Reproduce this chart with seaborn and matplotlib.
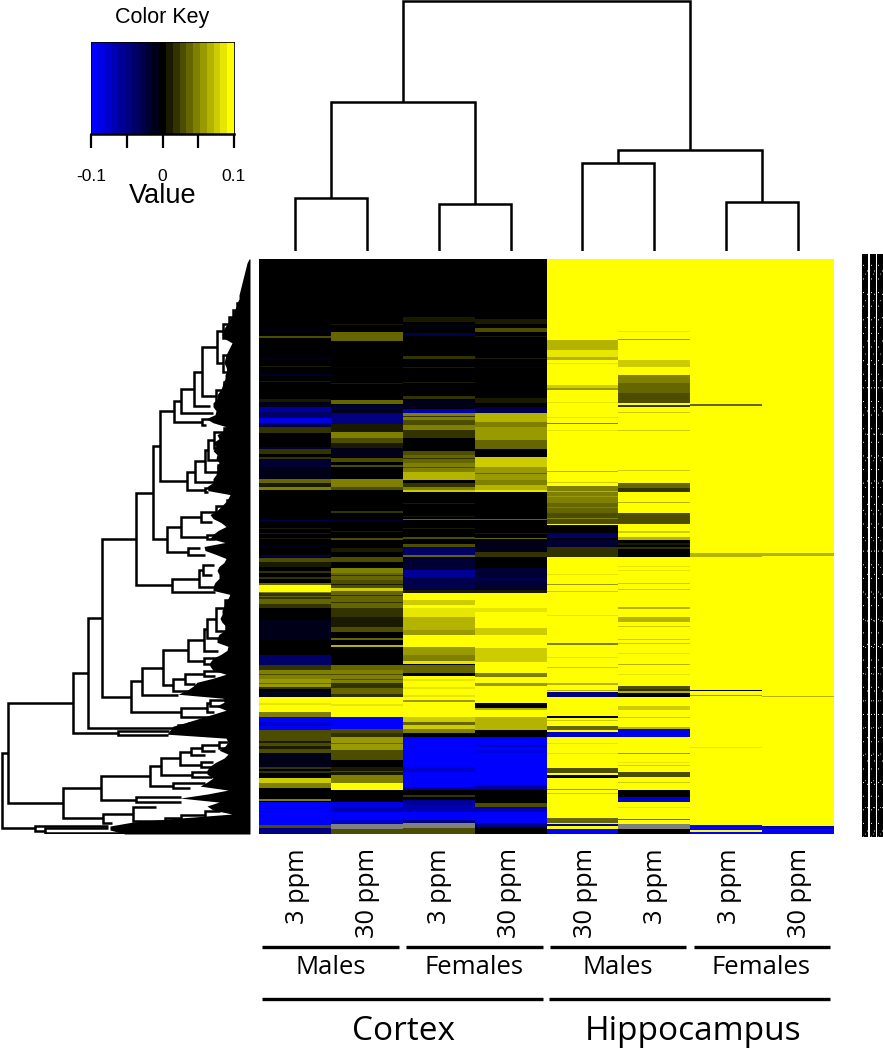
import numpy as np
import pandas as pd
import matplotlib
matplotlib.use('Agg')
import matplotlib.pyplot as plt
from matplotlib.colors import ListedColormap
import seaborn as sns

# column labels
dose_labels = ['3 ppm', '30 ppm', '3 ppm', '30 ppm', '30 ppm', '3 ppm', '3 ppm', '30 ppm']
sex_labels = ['Males', 'Females', 'Males', 'Females']
region_labels = ['Cortex', 'Hippocampus']
key_ticks = ['-0.1', '', '0', '', '0.1']
key_levels = list(range(-10, 11))
GRAY = np.nan  # the grey smudges in the bottom rows, off the colour scale

# each column: background level (in 0.01 units) and (first row, stop row, level) bands
cortex_m3 = [(71,73,-1),(77,79,3),(99,101,-1),(107,108,1),(115,116,-2),(122,123,1),(140,143,1),(143,148,-1),
    (148,153,-6),(153,159,-4),(159,164,-9),(164,168,-3),(168,174,2),(188,190,-2),(190,195,2),(198,200,2),
    (200,208,-2),(208,220,-1),(220,224,4),(224,228,1),(228,231,5),(261,262,-3),(269,270,1),(274,275,1),
    (279,280,1),(286,288,-1),(296,298,-3),(299,303,3),(303,308,1),(312,314,2),(318,320,2),(324,326,4),
    (326,333,10),(333,334,5),(334,340,2),(337,338,4),(340,345,4),(345,349,2),(361,381,-1),(396,406,-4),(406,411,2),
    (411,420,5),(415,416,3),(420,428,6),(424,425,4),(428,430,2),(433,438,-1),(438,453,10),(444,446,9),(453,458,5),
    (458,463,-10),(463,467,-8),(467,471,-10),(471,478,3),(478,487,3),(482,484,1),(487,490,1),(490,494,3),(494,508,-1),
    (508,510,2),(512,514,2),(519,524,8),(524,529,5),(540,542,5),(543,566,-10),(552,553,-7),(566,569,3),(569,575,-5)]
cortex_m30 = [(65,66,1),(73,82,4),(108,109,-1),(124,125,1),(141,145,4),(146,151,-2),(151,154,-1),(154,165,-5),
    (165,173,1),(173,179,5),(179,184,3),(184,189,1),(189,199,-1),(199,203,3),(206,208,3),(220,228,5),
    (228,231,3),(252,254,2),(261,262,-2),(272,273,1),(279,281,3),(289,293,1),(298,303,3),(309,314,5),
    (314,321,4),(316,317,2),(321,329,3),(325,326,1),(329,332,8),(332,349,4),(336,337,2),(343,344,2),(349,358,2),(358,368,1),(368,373,3),
    (379,381,4),(386,388,7),(406,411,4),(411,424,5),(415,416,3),(420,421,3),(424,429,2),(429,435,4),(435,438,2),(438,458,10),(445,447,9),
    (458,470,-10),(470,474,3),(474,478,2),(478,491,6),(484,485,4),(491,501,3),(508,516,1),(512,513,3),(516,524,5),(524,531,10),
    (543,548,-9),(548,553,-7),(553,561,-10),(561,565,-8),(565,570,GRAY),(570,575,3)]
cortex_f3 = [(58,63,1),(66,69,-1),(74,77,-3),(97,100,2),(108,109,1),(123,124,1),(137,140,2),(141,149,-1),
    (150,154,-7),(154,161,5),(157,158,2),(161,166,3),(166,171,5),(171,179,2),(192,196,3),(196,204,4),(199,200,2),(204,213,5),
    (208,209,3),(213,221,7),(224,228,2),(228,231,5),(231,233,8),(244,245,1),(257,258,1),(260,261,4),(269,270,1),
    (278,280,3),(285,288,3),(288,296,-4),(296,298,4),(298,311,-2),(311,318,-6),(318,331,-3),(331,334,1),
    (334,341,10),(341,346,8),(346,349,10),(349,358,9),(358,371,7),(371,376,6),(376,388,10),(388,396,6),
    (396,402,5),(402,405,9),(406,414,4),(417,441,10),(420,422,9),(428,430,9),(436,438,9),(441,443,6),
    (443,458,10),(458,463,8),(463,466,4),(466,470,8),(470,474,5),(478,508,-10),(508,513,-8),(513,528,-10),
    (528,531,-6),(536,538,2),(541,546,-6),(546,553,-7),(553,561,-10),(561,564,-5),(564,569,GRAY),(569,575,3)]
cortex_f30 = [(60,65,1),(69,73,3),(77,78,1),(99,100,1),(108,109,-1),(139,144,1),(146,147,-1),(148,154,-3),
    (154,163,7),(163,168,5),(168,181,6),(181,190,4),(198,208,8),(208,221,6),(214,215,4),(221,226,5),(226,233,7),
    (231,233,9),(260,261,4),(274,275,1),(279,280,4),(281,293,-1),(293,298,2),(309,331,-2),(318,322,-3),
    (331,334,1),(334,349,10),(349,353,9),(353,369,10),(369,376,8),(376,389,10),(389,403,8),(403,406,10),
    (406,414,10),(414,418,5),(418,424,10),(424,427,6),(427,444,10),(449,451,7),(451,458,10),(458,471,7),
    (471,478,0),(478,491,-10),(486,488,-8),(491,494,-9),(494,526,-10),(526,531,-6),(544,548,3),(548,553,-7),
    (553,564,-10),(564,568,-5)]
hippo_m30 = [(81,91,7),(91,98,9),(98,101,7),(104,105,9),(126,129,8),(129,131,6),(143,144,9),(158,159,9),
    (164,165,5),(171,172,9),(212,213,7),(223,224,8),(227,244,5),(232,233,7),(237,238,6),(244,254,4),(248,249,5),(254,265,3),(259,260,5),(266,274,0),
    (274,279,-4),(279,281,0),(281,288,-2),(288,298,2),(315,316,9),(325,326,6),(332,333,8),(356,357,9),
    (384,386,5),(398,399,9),(408,409,8),(424,426,7),(431,432,7),(433,438,-5),(457,459,0),(461,462,8),
    (467,471,4),(473,478,-8),(484,485,9),(494,495,9),(509,514,3),(516,519,0),(530,531,6),(534,535,8),
    (559,564,4),(565,567,-6),(567,570,10),(570,575,-10)]
hippo_m3 = [(72,73,9),(80,81,6),(101,108,8),(116,124,5),(124,134,4),(134,144,3),(146,148,2),(153,154,8),
    (171,172,8),(211,212,8),(224,229,4),(229,233,2),(243,244,7),(254,265,3),(272,274,8),(278,281,7),
    (281,298,0),(284,286,1),(288,290,2),(307,308,9),(311,312,9),(324,325,8),(330,331,8),(348,350,7),
    (358,363,7),(367,368,8),(380,381,8),(384,385,8),(394,395,9),(405,406,7),(415,416,9),(427,430,3),
    (430,432,2),(432,434,7),(434,438,0),(447,451,8),(458,459,8),(468,470,7),(470,478,-9),(494,495,6),
    (503,504,9),(506,507,8),(513,518,3),(523,524,8),(531,538,0),(538,543,-8),(548,549,9),(560,561,4),
    (565,570,GRAY),(570,575,0)]
hippo_f3 = [(145,147,4),(294,298,7),(431,432,0),(436,437,6),(488,489,9),(566,571,-10),(571,573,10),(573,575,-10)]
hippo_f30 = [(294,297,7),(437,438,7),(567,570,-7),(570,575,-10)]

# dendrograms as nested tuples: leaf (height, position), node (height, first, second)
col_tree = (250, (149, (53, (0, 0.5), (0, 1.5)), (47, (0, 2.5), (0, 3.5))),
                 (101, (88, (0, 4.5), (0, 5.5)), (49, (0, 6.5), (0, 7.5))))

s1 = (237, (242, 44), (240, 58))
s2 = (233, s1, (238, 66))
s3 = (229, s2, (234, 72))
s4 = (223, s3, (232, 79))
n1 = (223, (232, (238, 89), (236, 103)), (228, (234, 107), (233, 119)))
p1 = (216, (224, (230, 123), (229, 139)), (232, (236, 139), (236, 149)))
k1 = (202, (217, s4, n1), p1)
h1 = (174, (181, (194, k1, (210, 147)), (213, 154)), (202, (215, 160), (206, 166)))
a1 = (214, (224, (230, 169), (229, 178)), (228, (234, 185), (232, 193)))
a4 = (205, (208, a1, (223, 201)), (218, (227, 206), (225, 221)))
a6 = (187, (195, a4, (215, 223)), (205, (214, 229), (208, 233)))
b3 = (216, (227, (232, (238, 236), (236, 246)), (233, 254)), (228, 259))
b6 = (181, (201, b3, (212, 263)), (207, (225, 276), (215, 280)))
f1 = (153, (160, h1, a6), (167, b6, (188, (200, 289), (205, 296))))
c3 = (172, (199, (203, (214, 306), (212, 316)), (215, 328)), (215, 333))
d2 = (225, (231, (236, 336), (235, 346)), (228, 356))
d4 = (207, (216, d2, (226, (232, 366), (231, 377))), (218, 379))
d7 = (188, (204, d4, (218, 392)), (204, (225, 399), (215, 405)))
d9 = (173, (185, (204, (228, 412), (215, 417)), (195, 425)), (193, 432))
d14 = (181, (207, (210, (226, 441), (222, 447)), (214, 453)), (210, 458))
d1 = (102, (136, f1, c3), (131, (142, (163, d7, d9), (178, 436)), d14))
c1 = (88, d1, (178, (189, (200, 464), (198, 468)), (195, 472)))
b1 = (73, c1, (118, (169, 472), (168, 476)))
e1 = (191, (202, (219, (228, 483), (226, 489)), (215, 492)), (205, 496))
e5 = (161, (180, e1, (201, (213, 503), (212, 508))), (192, (210, 513), (212, 518)))
e7 = (150, e5, (173, (205, 524), (190, 529)))
e9 = (101, e7, (136, (181, 538), (181, 543)))
f2 = (165, (181, (205, (220, 552), (212, 559)), (180, 562)), (178, 565))
f4 = (103, (133, (156, 548), f2), (112, 564))
row_tree = (2, (8, b1, (63, e9, f4)), (35, (108, 567), (45, (108, 569), (125, 574))))

# left edge of the solid black part of the row dendrogram, top row to bottom row
row_mass_edge = [249,247,246,245,244,243,242,241,240,239,239,237,236,234,233,230,228,225,223,222,225,232,230,228,
    226,225,224,226,227,225,225,223,222,220,217,217,213,213,216,215,206,213,226,224,217,219,213,216,213,217,216,
    219,217,217,216,213,213,207,208,230,228,225,221,217,210,213,221,226,218,213,210,225,204,
    205,216,226,224,219,217,219,219,215,213,213,230,228,225,224,222,222,220,222,226,225,219,217,217,228,227,221,
    213,210,210,213,226,213,197,193,187,178,223,224,216,226,213,200,187,173,170,167,226,228,225,219,228,224,216,
    210,207,207,213,207,200,228,207,180,219,207,213,232,180,133,110,110,125]


def column(bands, background, n_rows=575):
    values = np.full(n_rows, float(background))
    for start, stop, level in bands:
        values[start:stop] = level
    return values * 0.01


def draw_tree(ax, node, vertical=False, lw=1.8):
    # returns height and position of the node, draws the brackets on the way up
    if len(node) == 2:
        return node
    h1_, p1_ = draw_tree(ax, node[1], vertical, lw)
    h2_, p2_ = draw_tree(ax, node[2], vertical, lw)
    h = node[0]
    xs, ys = [h1_, h, h, h2_], [p1_, p1_, p2_, p2_]
    if vertical:
        xs, ys = ys, xs
    ax.plot(xs, ys, color='black', lw=lw, solid_joinstyle='miter', solid_capstyle='butt')
    return h, (p1_ + p2_) / 2


W, H = 883, 1050


def px_axes(fig, x0, y0, x1, y1):
    return fig.add_axes([x0 / W, 1 - y1 / H, (x1 - x0) / W, (y1 - y0) / H])


sns.set_style('white')
plt.rcParams['text.color'] = 'black'
plt.rcParams['xtick.labelcolor'] = 'black'
fig = plt.figure(figsize=(W / 100, H / 100), dpi=100)

# blue-black-yellow panel
ramp = np.linspace(-1, 1, 21)
panel = [(max(t, 0), max(t, 0), max(-t, 0)) for t in ramp]
cmap = ListedColormap(panel)
cmap.set_bad('#808080')

matrix = pd.DataFrame({
    'c1': column(cortex_m3, 0), 'c2': column(cortex_m30, 0),
    'c3': column(cortex_f3, 0), 'c4': column(cortex_f30, 0),
    'h1': column(hippo_m30, 10), 'h2': column(hippo_m3, 10),
    'h3': column(hippo_f3, 10), 'h4': column(hippo_f30, 10),
})

ax_heat = px_axes(fig, 259, 259, 834, 834)
ax_heat.set_facecolor('#808080')
sns.heatmap(matrix, ax=ax_heat, cmap=cmap, vmin=-0.105, vmax=0.105, cbar=False,
            xticklabels=False, yticklabels=False)

# colour key
ax_key = px_axes(fig, 91, 42, 234, 134)
sns.heatmap(np.array([key_levels]) * 0.01, ax=ax_key, cmap=cmap, vmin=-0.105, vmax=0.105, cbar=False,
            xticklabels=False, yticklabels=False)
ax_key.set_xticks(np.linspace(0, 21, 5))
ax_key.set_xticklabels(key_ticks, fontsize=12.5, family='Liberation Sans')
ax_key.tick_params(axis='x', length=10, width=1.6, pad=15, bottom=True, color='black')
for side, spine in ax_key.spines.items():
    spine.set_visible(True)
    spine.set_color('black')
    spine.set_linewidth(1.8 if side == 'bottom' else 0.6)

# column dendrogram
ax_top = px_axes(fig, 259, 0, 834, 251)
draw_tree(ax_top, col_tree, vertical=True)
ax_top.set_xlim(0, 8)
ax_top.set_ylim(0, 251)
ax_top.axis('off')

# row dendrogram
ax_left = px_axes(fig, 0, 259, 250, 834)
draw_tree(ax_left, row_tree)
ax_left.fill_betweenx(np.linspace(0, 575, len(row_mass_edge)), row_mass_edge, 250, color='black', lw=0)
ax_left.set_xlim(0, 250)
ax_left.set_ylim(575, 0)
ax_left.axis('off')

# the row labels overprint each other into three black stripes
ax_right = px_axes(fig, 855, 254, 883, 837)
for x0, x1 in [(7, 13), (15, 20.5), (22, 28)]:
    ax_right.axvspan(x0, x1, color='black', lw=0)
    ax_right.plot([x0 + 1.2] * 2, [0, 1], color='white', lw=0.7, dashes=(1, 13))
    ax_right.plot([x1 - 1.5] * 2, [0.01, 1], color='white', lw=0.7, dashes=(1, 23))
    ax_right.plot([(x0 + x1) / 2] * 2, [0.005, 1], color='white', lw=0.6, dashes=(1, 31))
ax_right.set_xlim(0, 28)
ax_right.set_ylim(0, 1)
ax_right.axis('off')

# labels and rules below, positioned in pixels on a full figure overlay
ov = fig.add_axes([0, 0, 1, 1])
ov.set_xlim(0, W)
ov.set_ylim(H, 0)
ov.axis('off')
ov.patch.set_alpha(0)

ov.text(162, 17, 'Color Key', fontsize=15.5, family='Liberation Sans', ha='center', va='center')
ov.text(163, 196, 'Value', fontsize=19.5, family='Liberation Sans', ha='center', va='center')

label_font = 'Open Sans'
dose_x = [298, 368, 440, 510, 585, 655, 730, 799]
sex_x = [331, 474, 617.5, 761.5]
sex_rules = [(262, 399), (406, 543), (550, 686), (694, 830)]
region_x = [404, 693]
region_rules = [(262, 543), (549, 830)]
for x, lab in zip(dose_x, dose_labels):
    ov.text(x, 848, lab, rotation=90, fontsize=18.3, family=label_font, ha='center', va='top')
for x, rule, lab in zip(sex_x, sex_rules, sex_labels):
    ov.plot(rule, [947, 947], color='black', lw=2.4, solid_capstyle='butt')
    ov.text(x, 968, lab, fontsize=18.5, family=label_font, ha='center', va='center')
for x, rule, lab in zip(region_x, region_rules, region_labels):
    ov.plot(rule, [999, 999], color='black', lw=2.4, solid_capstyle='butt')
    ov.text(x, 1032, lab, fontsize=24, family=label_font, ha='center', va='center')

fig.savefig('out.png', dpi=100)
